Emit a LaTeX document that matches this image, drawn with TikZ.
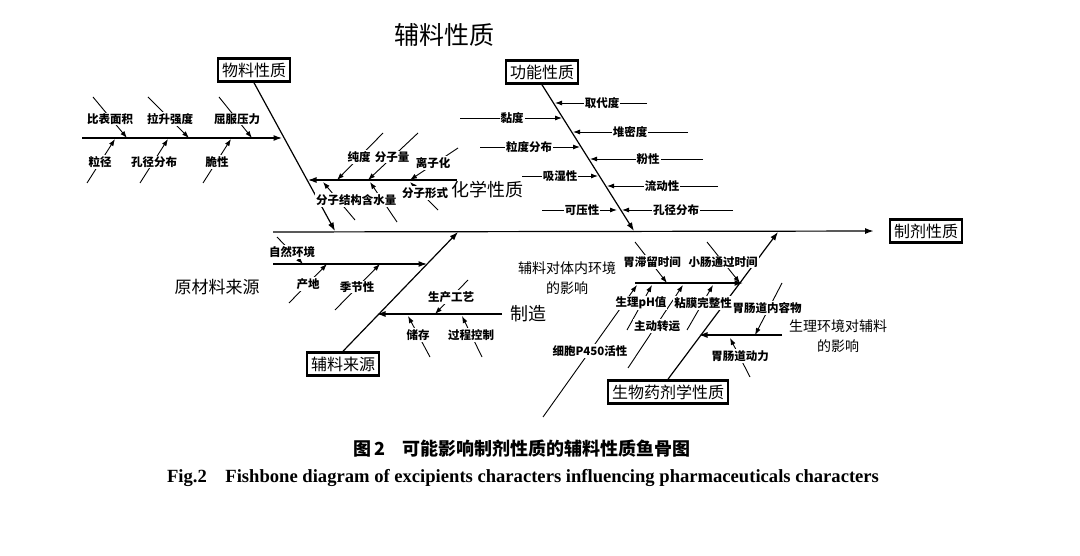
\documentclass[tikz,border=0pt]{standalone}
\usepackage{fontspec}
\setmainfont{Liberation Serif}
\newfontfamily\cjk{Noto Sans CJK SC}
\usetikzlibrary{arrows.meta}
\pgfdeclarelayer{bg}
\pgfdeclarelayer{paper}
\pgfsetlayers{paper,bg,main}
\newcommand\fbtick[5]{%
  \coordinate (#1s) at #2; \coordinate (#1t) at #3;
  \begin{pgfonlayer}{bg}\draw[tk] (#1s) -- (#1t);\end{pgfonlayer}
  \node[lbl] (#1) at #4 {#5};}
\newcommand\fbhline[3]{%
  \coordinate (#1) at #2; \coordinate (#1e) at #3;
  \begin{pgfonlayer}{bg}\draw[sub] (#1) -- (#1e);\end{pgfonlayer}}
\begin{document}
\begin{tikzpicture}[x=1pt,y=-1pt,
  tk/.style={line width=0.9pt,-{Latex[length=7pt,width=5pt]}},
  sub/.style={line width=1.1pt,-{Latex[length=8.5pt,width=6pt]}},
  bone/.style={line width=1.2pt,-{Latex[length=8.5pt,width=6pt]}},
  lbl/.style={fill=white,inner sep=1pt,font=\cjk\bfseries\fontsize{11.5}{13}\selectfont},
  big/.style={fill=white,inner sep=1pt,font=\cjk\fontsize{#1}{20}\selectfont},
  box/.style={draw,line width=2.8pt,inner sep=4pt,fill=white,font=\cjk\fontsize{16}{18}\selectfont}]
\begin{pgfonlayer}{paper}\fill[white] (0,0) rectangle (1080,556);\end{pgfonlayer}
\useasboundingbox (0,0) rectangle (1080,556);

% title
\node[big=25] (title) at (444,35) {辅料性质};

% spine
\node[box] (effect) at (926,231) {制剂性质};
\coordinate (spL) at (273,232);
\begin{pgfonlayer}{bg}\draw[bone,shorten >=15pt] (spL) -- (effect.west);\end{pgfonlayer}

% ---- 物料性质
\node[box] (mat) at (254,70) {物料性质};
\coordinate (matT) at (335,231);
\begin{pgfonlayer}{bg}\draw[bone] (mat.south) -- (matT);\end{pgfonlayer}
\fbhline{phy}{(82,138)}{(282,138)}
\fbtick{p1}{(93,97)}{(127,138)}{(110,119)}{比表面积}
\fbtick{p2}{(148,97)}{(189,138)}{(170,119)}{拉升强度}
\fbtick{p3}{(219,97)}{(252,138)}{(237,119)}{屈服压力}
\fbtick{p4}{(87,183)}{(115,139)}{(100,162)}{粒径}
\fbtick{p5}{(140,183)}{(168,139)}{(154,162)}{孔径分布}
\fbtick{p6}{(203,183)}{(231,139)}{(217,162)}{脆性}

% 化学性质
\fbhline{chem}{(457,180)}{(308,180)}
\node[big=18] (chemL) at (487,190) {化学性质};
\fbtick{c1}{(383,133)}{(337,180)}{(359,157)}{纯度}
\fbtick{c2}{(418,133)}{(368,180)}{(392,157)}{分子量}
\fbtick{c3}{(458,148)}{(410,180)}{(433,163)}{离子化}
\fbtick{c4}{(355,220)}{(323,182)}{(339,200)}{分子结构}
\fbtick{c5}{(397,222)}{(370,182)}{(379,200)}{含水量}
\fbtick{c6}{(438,210)}{(410,182)}{(425,193)}{分子形式}

% ---- 功能性质
\node[box] (fun) at (542,72) {功能性质};
\coordinate (funT) at (634,231);
\begin{pgfonlayer}{bg}\draw[bone] (fun.south) -- (funT);\end{pgfonlayer}
\fbtick{f1}{(647,103)}{(555,103)}{(602,103)}{取代度}
\fbtick{f2}{(688,132)}{(573,132)}{(630,132)}{堆密度}
\fbtick{f3}{(703,159)}{(590,159)}{(648,159)}{粉性}
\fbtick{f4}{(718,186)}{(607,186)}{(662,186)}{流动性}
\fbtick{f5}{(733,210)}{(622,210)}{(676,210)}{孔径分布}
\fbtick{f6}{(460,118)}{(562,118)}{(512,118)}{黏度}
\fbtick{f7}{(480,147)}{(580,147)}{(529,147)}{粒度分布}
\fbtick{f8}{(522,176)}{(598,176)}{(560,176)}{吸湿性}
\fbtick{f9}{(542,210)}{(617,210)}{(582,210)}{可压性}

% ---- 辅料来源
\node[box] (src) at (343,364) {辅料来源};
\coordinate (srcT) at (458,232);
\begin{pgfonlayer}{bg}\draw[bone] (src.north) -- (srcT);\end{pgfonlayer}
\fbhline{raw}{(273,264)}{(427,264)}
\node[big=17] (rawL) at (217,287) {原材料来源};
\fbtick{s1}{(277,237)}{(303,264)}{(292,252)}{自然环境}
\fbtick{s2}{(289,303)}{(327,264)}{(308,284)}{产地}
\fbtick{s3}{(335,310)}{(380,264)}{(357,287)}{季节性}
\fbhline{man}{(502,314)}{(377,314)}
\node[big=18] (manL) at (528,314) {制造};
\fbtick{s4}{(468,280)}{(435,314)}{(451,297)}{生产工艺}
\fbtick{s5}{(430,357)}{(408,316)}{(418,335)}{储存}
\fbtick{s6}{(482,357)}{(462,316)}{(471,335)}{过程控制}

% ---- 生物药剂学性质
\node[box] (bio) at (668,392) {生物药剂学性质};
\coordinate (bioT) at (778,232);
\begin{pgfonlayer}{bg}\draw[bone] (bio.north) -- (bioT);\end{pgfonlayer}
\fbhline{inv}{(635,283)}{(743,283)}
\node[big=14,align=center] (invL) at (567,278) {辅料对体内环境\\的影响};
\fbtick{b1}{(635,242)}{(667,283)}{(652,262)}{胃滞留时间}
\fbtick{b2}{(707,242)}{(740,283)}{(723,262)}{小肠通过时间}
\fbtick{b3}{(543,417)}{(637,285)}{(590,351)}{细胞P450活性}
\fbtick{b4}{(627,330)}{(652,285)}{(641,303)}{生理pH值}
\fbtick{b5}{(628,368)}{(683,285)}{(657,326)}{主动转运}
\fbtick{b6}{(687,330)}{(713,285)}{(703,303)}{粘膜完整性}
\fbhline{phys}{(782,335)}{(699,335)}
\node[big=14,align=center] (physL) at (838,336) {生理环境对辅料\\的影响};
\fbtick{b7}{(782,283)}{(755,335)}{(767,308)}{胃肠道内容物}
\fbtick{b8}{(750,377)}{(730,338)}{(740,356)}{胃肠道动力}

% captions
\node[font=\cjk\bfseries\fontsize{18}{20}\selectfont] (cap1) at (522,449) {图\,2\quad 可能影响制剂性质的辅料性质鱼骨图};
\node[font=\bfseries\fontsize{18.6}{20}\selectfont] (cap2) at (523,478) {Fig.2\quad Fishbone diagram of excipients characters influencing pharmaceuticals characters};
\end{tikzpicture}
\end{document}
